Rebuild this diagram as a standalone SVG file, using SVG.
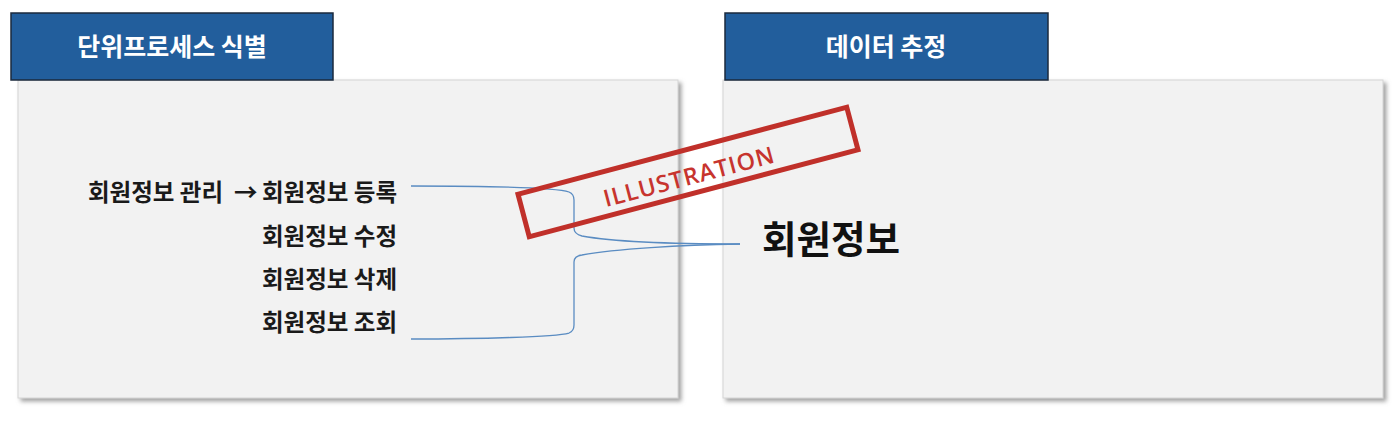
<svg xmlns="http://www.w3.org/2000/svg" width="1400" height="422" viewBox="0 0 1400 422">
<defs>
<filter id="sh" x="-5%" y="-5%" width="115%" height="120%">
<feDropShadow dx="3" dy="3" stdDeviation="2" flood-color="#7a7a7a" flood-opacity="0.7"/>
</filter>
<style>
.panel{fill:#f2f2f2;stroke:#d4d4d4;stroke-width:1;filter:url(#sh)}
.hdr{fill:#225e9c;stroke:#1b2a3d;stroke-width:1.5}
.hdrt{font-family:"Noto Sans CJK KR","Noto Sans",sans-serif;font-weight:bold;font-size:25px;fill:#ffffff;text-anchor:middle}
.item{font-family:"Noto Sans CJK KR","Noto Sans",sans-serif;font-weight:bold;font-size:23.5px;fill:#1a1a1a}
.big{font-family:"Noto Sans CJK KR","Noto Sans",sans-serif;font-weight:bold;font-size:37.5px;fill:#111111}
.conn{fill:none;stroke:#5a8cc2;stroke-width:1.3}
.stamp{fill:none;stroke:#c0302a;stroke-width:5}
.stampt{font-family:"Open Sans","Liberation Sans",sans-serif;font-weight:600;font-size:23.5px;fill:#c7342e;text-anchor:middle;letter-spacing:1px}
</style>
</defs>
<rect width="1400" height="422" fill="#ffffff"/>
<g id="panel-left">
<rect class="panel" x="18" y="80" width="660" height="318"/>
<rect class="hdr" x="11" y="13" width="322" height="67"/>
<text class="hdrt" x="172" y="56">단위프로세스 식별</text>
</g>
<g id="panel-right">
<rect class="panel" x="723" y="80" width="660" height="318"/>
<rect class="hdr" x="725" y="13" width="323" height="67"/>
<text class="hdrt" x="886" y="56">데이터 추정</text>
</g>
<g id="items">
<text class="item" x="88" y="201">회원정보 관리<tspan x="234">→</tspan><tspan x="262">회원정보 등록</tspan></text>
<text class="item" x="262" y="245">회원정보 수정</text>
<text class="item" x="262" y="288">회원정보 삭제</text>
<text class="item" x="262" y="331">회원정보 조회</text>
</g>
<g id="connectors">
<path class="conn" d="M411,186 C480,186 555,187 569,192 Q574,194 574,200 L574,228 Q574,234 582,236 C615,242 680,244 740,244"/>
<path class="conn" d="M411,339 C480,339 555,337 569,333 Q574,331 574,325 L574,262 Q574,256 582,255 C615,249 680,245 740,244"/>
</g>
<g id="target">
<text class="big" x="762" y="253">회원정보</text>
</g>
<g id="stamp" transform="translate(688,172) rotate(-14.8)">
<rect class="stamp" x="-170" y="-22" width="340" height="44"/>
<text class="stampt" x="0" y="13">ILLUSTRATION</text>
</g>
</svg>
